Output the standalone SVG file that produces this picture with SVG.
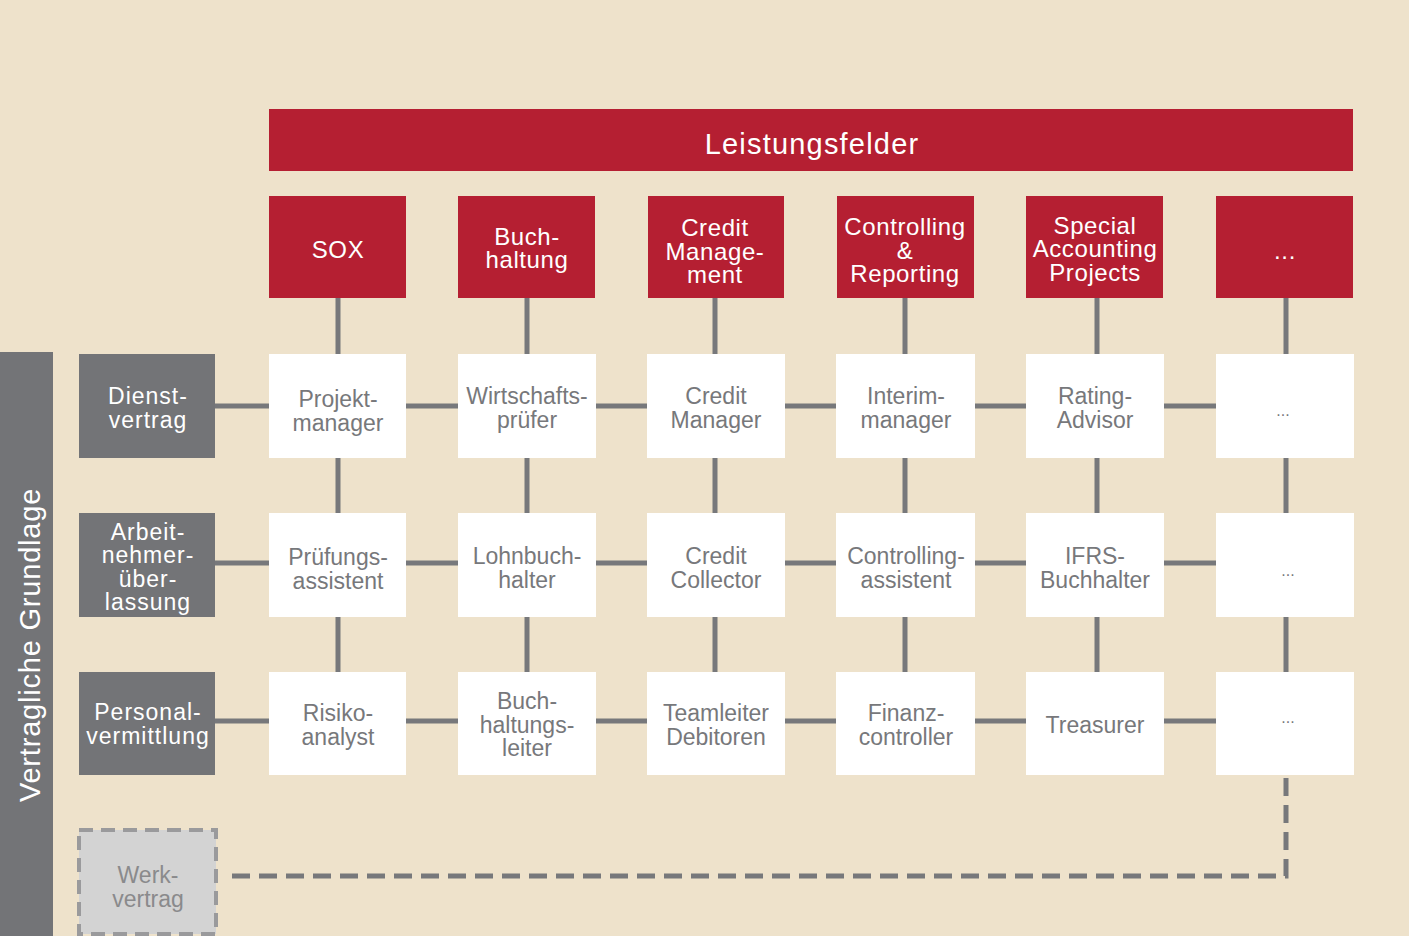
<svg xmlns="http://www.w3.org/2000/svg" width="1409" height="936" viewBox="0 0 1409 936">
<style>
.bg{fill:#EEE2CB}
.red{fill:#B51F32}
.wht{fill:#FFFFFF}
.gry{fill:#737477}
.con{stroke:#77787B;stroke-width:5;fill:none}
.dash{stroke:#77787B;stroke-width:5;fill:none;stroke-dasharray:18 9}
.th{font-family:"Liberation Sans",Arial,sans-serif;font-size:24px;fill:#FFFFFF;text-anchor:middle;letter-spacing:0.6px}
.tw{font-family:"Liberation Sans",Arial,sans-serif;font-size:23px;fill:#77787B;text-anchor:middle}
.tg{font-family:"Liberation Sans",Arial,sans-serif;font-size:23px;fill:#FFFFFF;text-anchor:middle;letter-spacing:1px}
</style>
<rect class="bg" x="0" y="0" width="1409" height="936"/>
<g id="connectors">
<line class="con" x1="338" y1="298" x2="338" y2="672"/>
<line class="con" x1="527" y1="298" x2="527" y2="672"/>
<line class="con" x1="715" y1="298" x2="715" y2="672"/>
<line class="con" x1="905" y1="298" x2="905" y2="672"/>
<line class="con" x1="1097" y1="298" x2="1097" y2="672"/>
<line class="con" x1="1286" y1="298" x2="1286" y2="672"/>
<line class="con" x1="215" y1="406" x2="1216" y2="406"/>
<line class="con" x1="215" y1="563" x2="1216" y2="563"/>
<line class="con" x1="215" y1="721" x2="1216" y2="721"/>
<path class="dash" d="M1286 778 L1286 876 L225 876"/>
</g>
<g id="vertical-label">
<rect class="gry" x="0" y="352" width="53" height="584"/>
<text font-family="Liberation Sans, Arial, sans-serif" font-size="29" fill="#FFFFFF" text-anchor="middle" letter-spacing="0.8" x="40" y="645" transform="rotate(-90 40 645)">Vertragliche Grundlage</text>
</g>
<g id="header">
<rect class="red" x="269" y="109" width="1084" height="62"/>
<text class="th" x="812" y="154" style="font-size:29px;letter-spacing:1.2px">Leistungsfelder</text>
</g>
<g id="h-sox"><rect class="red" x="269" y="196" width="137" height="102"/><text class="th" x="338" y="258">SOX</text></g>
<g id="h-buch"><rect class="red" x="458" y="196" width="137" height="102"/><text class="th" x="527" y="245">Buch-</text><text class="th" x="527" y="268">haltung</text></g>
<g id="h-credit"><rect class="red" x="648" y="196" width="136" height="102"/><text class="th" x="715" y="236">Credit</text><text class="th" x="715" y="260">Manage-</text><text class="th" x="715" y="283">ment</text></g>
<g id="h-controlling"><rect class="red" x="837" y="196" width="137" height="102"/><text class="th" x="905" y="235">Controlling</text><text class="th" x="905" y="259">&amp;</text><text class="th" x="905" y="282">Reporting</text></g>
<g id="h-special"><rect class="red" x="1026" y="196" width="137" height="102"/><text class="th" x="1095" y="234">Special</text><text class="th" x="1095" y="257">Accounting</text><text class="th" x="1095" y="281">Projects</text></g>
<g id="h-more"><rect class="red" x="1216" y="196" width="137" height="102"/><text class="th" x="1285" y="259">...</text></g>
<g id="l-dienst"><rect class="gry" x="79" y="354" width="136" height="104"/><text class="tg" x="148" y="404">Dienst-</text><text class="tg" x="148" y="428">vertrag</text></g>
<g id="l-anue"><rect class="gry" x="79" y="513" width="136" height="104"/><text class="tg" x="148" y="540">Arbeit-</text><text class="tg" x="148" y="563">nehmer-</text><text class="tg" x="148" y="587">über-</text><text class="tg" x="148" y="610">lassung</text></g>
<g id="l-personal"><rect class="gry" x="79" y="672" width="136" height="103"/><text class="tg" x="148" y="720">Personal-</text><text class="tg" x="148" y="744">vermittlung</text></g>
<g id="l-werk"><rect x="79" y="830" width="137" height="104" fill="#D3D3D3" stroke="#9A9A9C" stroke-width="4" stroke-dasharray="14 8"/><text class="tw" x="148" y="883" style="fill:#8A8A8C">Werk-</text><text class="tw" x="148" y="907" style="fill:#8A8A8C">vertrag</text></g>
<g id="r1c1"><rect class="wht" x="269" y="354" width="137" height="104"/><text class="tw" x="338" y="407">Projekt-</text><text class="tw" x="338" y="431">manager</text></g>
<g id="r1c2"><rect class="wht" x="458" y="354" width="138" height="104"/><text class="tw" x="527" y="404">Wirtschafts-</text><text class="tw" x="527" y="428">prüfer</text></g>
<g id="r1c3"><rect class="wht" x="647" y="354" width="138" height="104"/><text class="tw" x="716" y="404">Credit</text><text class="tw" x="716" y="428">Manager</text></g>
<g id="r1c4"><rect class="wht" x="836" y="354" width="139" height="104"/><text class="tw" x="906" y="404">Interim-</text><text class="tw" x="906" y="428">manager</text></g>
<g id="r1c5"><rect class="wht" x="1026" y="354" width="138" height="104"/><text class="tw" x="1095" y="404">Rating-</text><text class="tw" x="1095" y="428">Advisor</text></g>
<g id="r1c6"><rect class="wht" x="1216" y="354" width="138" height="104"/><text class="tw" x="1283" y="416" style="font-size:16px">...</text></g>
<g id="r2c1"><rect class="wht" x="269" y="513" width="137" height="104"/><text class="tw" x="338" y="565">Prüfungs-</text><text class="tw" x="338" y="589">assistent</text></g>
<g id="r2c2"><rect class="wht" x="458" y="513" width="138" height="104"/><text class="tw" x="527" y="564">Lohnbuch-</text><text class="tw" x="527" y="588">halter</text></g>
<g id="r2c3"><rect class="wht" x="647" y="513" width="138" height="104"/><text class="tw" x="716" y="564">Credit</text><text class="tw" x="716" y="588">Collector</text></g>
<g id="r2c4"><rect class="wht" x="836" y="513" width="139" height="104"/><text class="tw" x="906" y="564">Controlling-</text><text class="tw" x="906" y="588">assistent</text></g>
<g id="r2c5"><rect class="wht" x="1026" y="513" width="138" height="104"/><text class="tw" x="1095" y="564">IFRS-</text><text class="tw" x="1095" y="588">Buchhalter</text></g>
<g id="r2c6"><rect class="wht" x="1216" y="513" width="138" height="104"/><text class="tw" x="1288" y="576" style="font-size:16px">...</text></g>
<g id="r3c1"><rect class="wht" x="269" y="672" width="137" height="103"/><text class="tw" x="338" y="721">Risiko-</text><text class="tw" x="338" y="745">analyst</text></g>
<g id="r3c2"><rect class="wht" x="458" y="672" width="138" height="103"/><text class="tw" x="527" y="709">Buch-</text><text class="tw" x="527" y="733">haltungs-</text><text class="tw" x="527" y="756">leiter</text></g>
<g id="r3c3"><rect class="wht" x="647" y="672" width="138" height="103"/><text class="tw" x="716" y="721">Teamleiter</text><text class="tw" x="716" y="745">Debitoren</text></g>
<g id="r3c4"><rect class="wht" x="836" y="672" width="139" height="103"/><text class="tw" x="906" y="721">Finanz-</text><text class="tw" x="906" y="745">controller</text></g>
<g id="r3c5"><rect class="wht" x="1026" y="672" width="138" height="103"/><text class="tw" x="1095" y="733">Treasurer</text></g>
<g id="r3c6"><rect class="wht" x="1216" y="672" width="138" height="103"/><text class="tw" x="1288" y="723" style="font-size:16px">...</text></g>
</svg>
